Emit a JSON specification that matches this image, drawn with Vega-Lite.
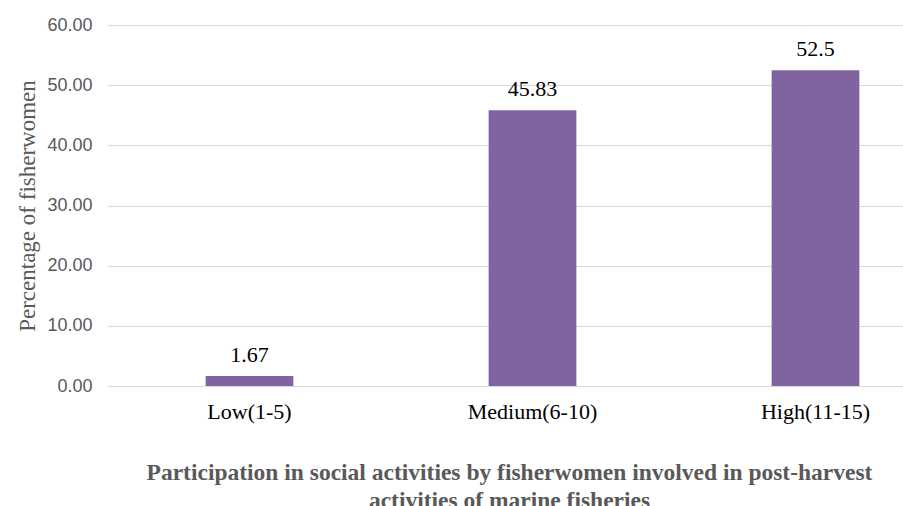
{
  "$schema": "https://vega.github.io/schema/vega-lite/v6.json",
  "width": 849,
  "height": 361,
  "autosize": {"type": "none"},
  "padding": {"left": 108, "top": 25, "right": 0, "bottom": 120},
  "background": "white",
  "config": {"view": {"stroke": null}},
  "data": {
    "values": [
      {"level": "Low(1-5)", "pct": 1.67, "label": "1.67"},
      {"level": "Medium(6-10)", "pct": 45.83, "label": "45.83"},
      {"level": "High(11-15)", "pct": 52.5, "label": "52.5"}
    ]
  },
  "encoding": {
    "x": {
      "field": "level",
      "type": "nominal",
      "sort": null,
      "scale": {"paddingInner": 0.69, "paddingOuter": 0.345},
      "axis": {
        "title": ["Participation in social activities by fisherwomen involved in post-harvest", "activities of marine fisheries"],
        "titleFont": "Liberation Serif",
        "titleFontSize": 23.5,
        "titleFontWeight": "bold",
        "titleColor": "#595959",
        "titleLineHeight": 28,
        "titlePadding": 38,
        "titleX": 401,
        "labelFont": "Liberation Serif",
        "labelFontSize": 22,
        "labelColor": "#000000",
        "labelPadding": 15,
        "labelAngle": 0,
        "ticks": false,
        "domain": false
      }
    },
    "y": {
      "field": "pct",
      "type": "quantitative",
      "scale": {"domain": [0, 60]},
      "axis": {
        "title": "Percentage of fisherwomen",
        "titleFont": "Liberation Serif",
        "titleFontSize": 23,
        "titleFontWeight": "normal",
        "titleColor": "#595959",
        "titlePadding": 7,
        "values": [0, 10, 20, 30, 40, 50, 60],
        "format": ".2f",
        "labelFont": "Liberation Sans",
        "labelFontSize": 18,
        "labelColor": "#595959",
        "labelPadding": 16,
        "ticks": false,
        "domain": false,
        "grid": true,
        "gridColor": "#d9d9d9",
        "gridWidth": 1
      }
    }
  },
  "layer": [
    {"mark": {"type": "bar", "color": "#8064A2"}},
    {
      "mark": {"type": "text", "baseline": "bottom", "dy": -9, "font": "Liberation Serif", "fontSize": 22, "color": "#000000"},
      "encoding": {"text": {"field": "label"}}
    }
  ]
}
